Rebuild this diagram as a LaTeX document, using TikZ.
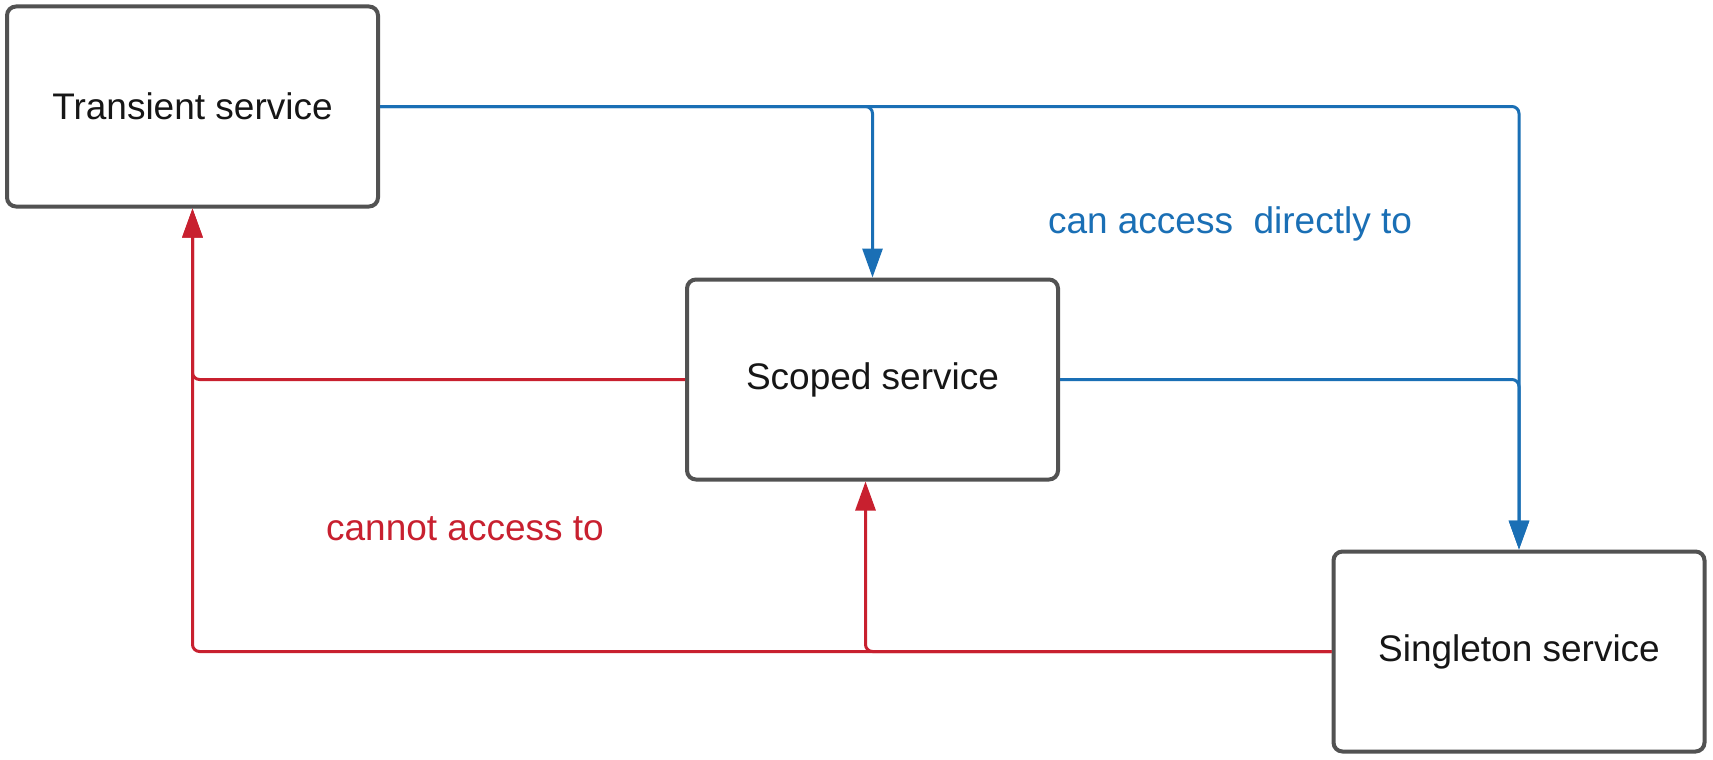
\documentclass[tikz,border=0pt]{standalone}
\usepackage{fontspec}
\setmainfont{Liberation Sans}
\usetikzlibrary{arrows.meta}
\definecolor{boxgray}{HTML}{525252}
\definecolor{linkblue}{HTML}{1A6FB5}
\definecolor{linkred}{HTML}{C8202F}
\definecolor{txt}{HTML}{161616}
\tikzset{
  svcbox/.style={draw=boxgray, line width=4pt, rounded corners=9pt, fill=white,
    minimum width=371pt, minimum height=200pt, inner sep=0pt, text=txt,
    font=\fontsize{37}{44}\selectfont},
  canlink/.style={draw=linkblue, line width=3pt, rounded corners=7pt,
    -{Triangle[length=29pt,width=20pt]}},
  cannotlink/.style={draw=linkred, line width=3pt, rounded corners=7pt,
    -{Triangle[length=29pt,width=20pt]}},
  lbl/.style={font=\fontsize{37}{44}\selectfont, inner sep=0pt}
}
\begin{document}
\begin{tikzpicture}[x=1pt,y=-1pt]
\useasboundingbox[fill=white] (0,0) rectangle (1713,760);
\node[svcbox] (transient) at (192.5,106.5) {Transient service};
\node[svcbox] (scoped) at (872.5,379.5) {Scoped service};
\node[svcbox] (singleton) at (1519,651.5) {Singleton service};
% turning points
\coordinate (tr) at (singleton.north |- transient.east);
\coordinate (sr) at (singleton.north |- scoped.east);
\coordinate (bl) at (transient.south |- singleton.west);
\coordinate (bm) at ([xshift=-7pt]scoped.south |- singleton.west);
\coordinate (ml) at (transient.south |- scoped.west);
% blue: can access directly to
\draw[canlink] (transient.east) -| (scoped.north);
\draw[canlink] (transient.east) -- (tr) -- (singleton.north);
\draw[canlink] (scoped.east) -- (sr) -- (singleton.north);
% red: cannot access to
\draw[cannotlink] (singleton.west) -- (bl) -- (transient.south);
\draw[cannotlink] (singleton.west) -- (bm) -- (scoped.south -| bm);
\draw[cannotlink] (scoped.west) -- (ml) -- (transient.south);
% labels
\node[lbl, text=linkblue, anchor=base] (canlbl) at (1230,233) {can access\ \ directly to};
\node[lbl, text=linkred, anchor=base] (cannotlbl) at (465,540) {cannot access to};
\end{tikzpicture}
\end{document}
